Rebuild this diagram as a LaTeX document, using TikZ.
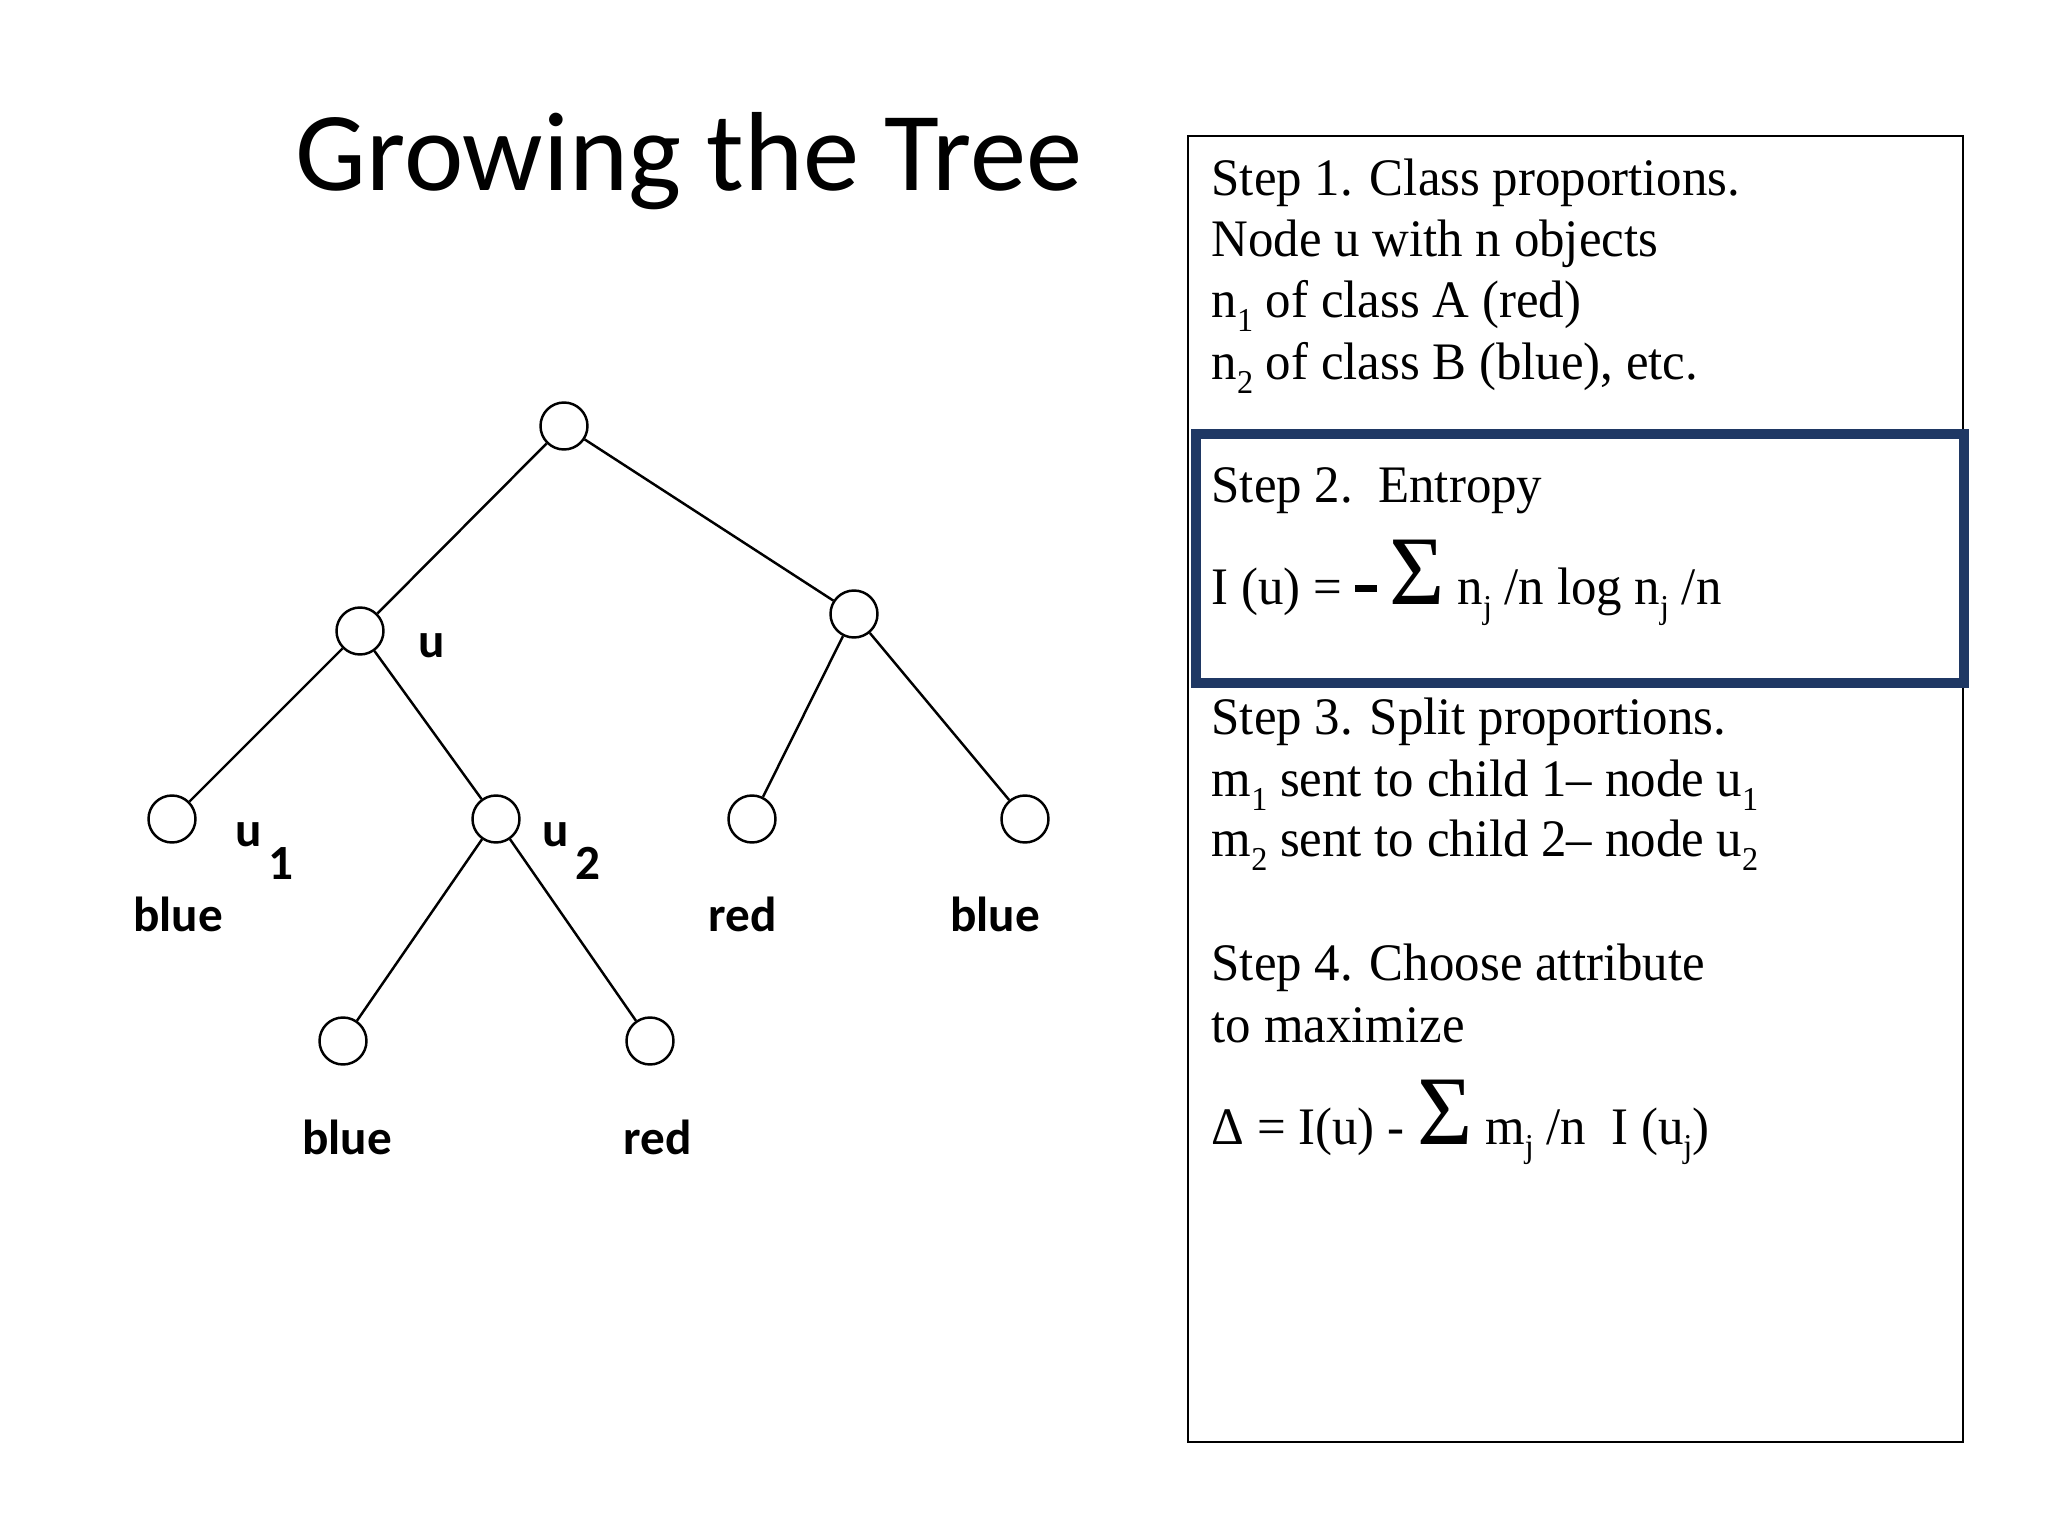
\documentclass[tikz,border=0pt]{standalone}
\usepackage{fontspec}
\setmainfont{Liberation Serif}
\newfontfamily\slidefont{Carlito}
\newfontfamily\boxfont{Liberation Serif}[FakeStretch=0.965]
\usepackage{tikz}
\usetikzlibrary{positioning}
\definecolor{stepnavy}{RGB}{31,56,100}
\newcommand{\lowsub}[1]{\raisebox{-0.25em}{\fontsize{9.5}{9.5}\selectfont #1}}
\newcommand{\bigsig}{{\fontsize{28}{28}\selectfont Σ}}
\newcommand{\heavydash}{\rule[0.24em]{0.42em}{0.13em}}

\begin{document}
\begin{tikzpicture}[
  treenode/.style={draw, circle, line width=0.7pt, minimum size=0.47cm, inner sep=0pt},
  lbl/.style={font=\slidefont\fontsize{14}{14}\selectfont\bfseries, inner sep=0pt, anchor=base},
  stepline/.style={font=\boxfont\fontsize{15}{15}\selectfont, inner sep=0pt, anchor=base west},
  branch/.style={line width=0.7pt}
]
\useasboundingbox (0,0) rectangle (20.48,-15.36);

% Title
\node[font=\slidefont\fontsize{32}{32}\selectfont, anchor=base] (title) at (6.89,-1.91) {Growing the Tree};

% Tree
\node[treenode] (root) at (5.64,-4.26) {};
\node[treenode] (u) at (3.60,-6.31) {};
\node[treenode] (v) at (8.54,-6.14) {};
\node[treenode] (u1) at (1.72,-8.19) {};
\node[treenode] (u2) at (4.96,-8.19) {};
\node[treenode] (vleft) at (7.52,-8.19) {};
\node[treenode] (vright) at (10.25,-8.19) {};
\node[treenode] (u2left) at (3.43,-10.41) {};
\node[treenode] (u2right) at (6.50,-10.41) {};

\draw[branch] (root) -- (u);
\draw[branch] (root) -- (v);
\draw[branch] (u) -- (u1);
\draw[branch] (u) -- (u2);
\draw[branch] (v) -- (vleft);
\draw[branch] (v) -- (vright);
\draw[branch] (u2) -- (u2left);
\draw[branch] (u2) -- (u2right);

% Tree labels
\node[lbl] (ulab) at (4.32,-6.57) {u};
\node[lbl, anchor=base west] (u1lab) at (2.35,-8.47) {u\hspace{0.06cm}\raisebox{-0.33cm}{1}};
\node[lbl, anchor=base west] (u2lab) at (5.42,-8.47) {u\hspace{0.06cm}\raisebox{-0.33cm}{2}};
\node[lbl] (u1class) at (1.78,-9.32) {blue};
\node[lbl] (vlclass) at (7.43,-9.32) {red};
\node[lbl] (vrclass) at (9.95,-9.32) {blue};
\node[lbl] (u2lclass) at (3.47,-11.54) {blue};
\node[lbl] (u2rclass) at (6.58,-11.54) {red};

% Steps box
\draw[line width=0.8pt] (11.88,-1.36) rectangle (19.63,-14.42);
\draw[stepnavy, line width=2.6pt] (11.96,-4.34) rectangle (19.64,-6.83);

% Step 1
\node[stepline] (s1a) at (12.11,-1.96) {Step 1. Class proportions.};
\node[stepline] (s1b) at (12.11,-2.57) {Node u with n objects};
\node[stepline] (s1c) at (12.11,-3.18) {n\lowsub{1} of class A (red)};
\node[stepline] (s1d) at (12.11,-3.80) {n\lowsub{2} of class B (blue), etc.};

% Step 2
\node[stepline] (s2a) at (12.11,-5.03) {Step 2.\ \ Entropy};
\node[stepline] (s2b) at (12.11,-6.05) {I (u) = \heavydash\ \bigsig\ n\lowsub{j} /n log n\lowsub{j} /n};

% Step 3
\node[stepline] (s3a) at (12.11,-7.35) {Step 3. Split proportions.};
\node[stepline] (s3b) at (12.11,-7.97) {m\lowsub{1} sent to child 1– node u\lowsub{1}};
\node[stepline] (s3c) at (12.11,-8.57) {m\lowsub{2} sent to child 2– node u\lowsub{2}};

% Step 4
\node[stepline] (s4a) at (12.11,-9.80) {Step 4. Choose attribute};
\node[stepline] (s4b) at (12.11,-10.42) {to maximize};
\node[stepline] (s4c) at (12.11,-11.44) {Δ = I(u) - \bigsig\ m\lowsub{j} /n\ \ I (u\lowsub{j})};

\end{tikzpicture}
\end{document}
